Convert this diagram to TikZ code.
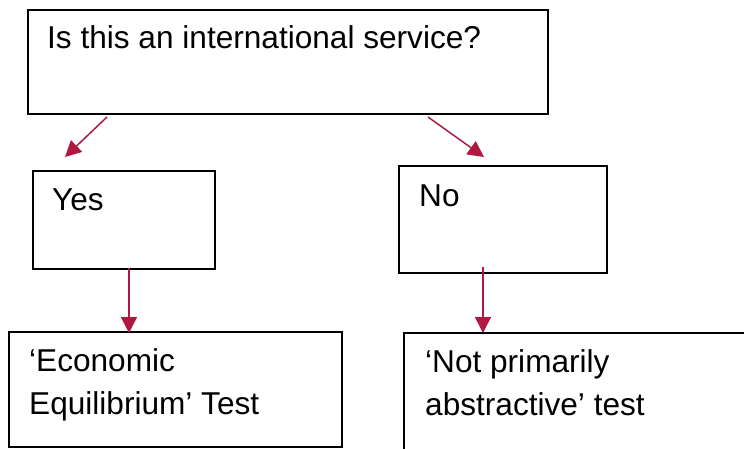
\documentclass[tikz,border=0pt]{standalone}
\usepackage{fontspec}
\setmainfont{Liberation Sans}
\usetikzlibrary{arrows.meta}
\definecolor{arrowred}{RGB}{176,24,64}
\tikzset{
  box/.style={draw=black, line width=1.7pt, fill=none, inner sep=0pt, anchor=north west},
  lbl/.style={anchor=base west, inner sep=0pt, font=\fontsize{31.6}{43}\selectfont, align=left},
  arr/.style={draw=arrowred, line width=1.5pt, -{Triangle[length=16pt,width=16pt]}}
}
\begin{document}
\begin{tikzpicture}[x=1pt, y=-1pt]
\clip (0,0) rectangle (744,448);
\useasboundingbox (0,0) rectangle (744,448);
% boxes
\node[box, minimum width=520pt, minimum height=104pt] (q) at (27,9) {};
\node[box, minimum width=182pt, minimum height=98pt] (yes) at (32,170) {};
\node[box, minimum width=208pt, minimum height=107pt] (no) at (398,165) {};
\node[box, minimum width=333pt, minimum height=115pt] (eco) at (8,331) {};
\node[box, minimum width=360pt, minimum height=130pt] (npa) at (403,332) {};
% texts
\node[lbl] (qt) at (47,48.5) {Is this an international service?};
\node[lbl] (yt) at (52,210) {Yes};
\node[lbl] (nt) at (419,206) {No};
\node[lbl] (et) at (29,414) {‘Economic\\Equilibrium’ Test};
\node[lbl] (pt) at (425,415) {‘Not primarily\\abstractive’ test};
% arrow end points
\coordinate (a1s) at (107,117);
\coordinate (a1e) at (65,157);
\coordinate (a2s) at (428,117);
\coordinate (a2e) at (484,157);
\coordinate (a3s) at (129,268);
\coordinate (a3e) at (129,333);
\coordinate (a4s) at (483,267);
\coordinate (a4e) at (483,333);
\draw[arr] (a1s) -- (a1e);
\draw[arr] (a2s) -- (a2e);
\draw[arr] (a3s) -- (a3e);
\draw[arr] (a4s) -- (a4e);
\end{tikzpicture}
\end{document}
